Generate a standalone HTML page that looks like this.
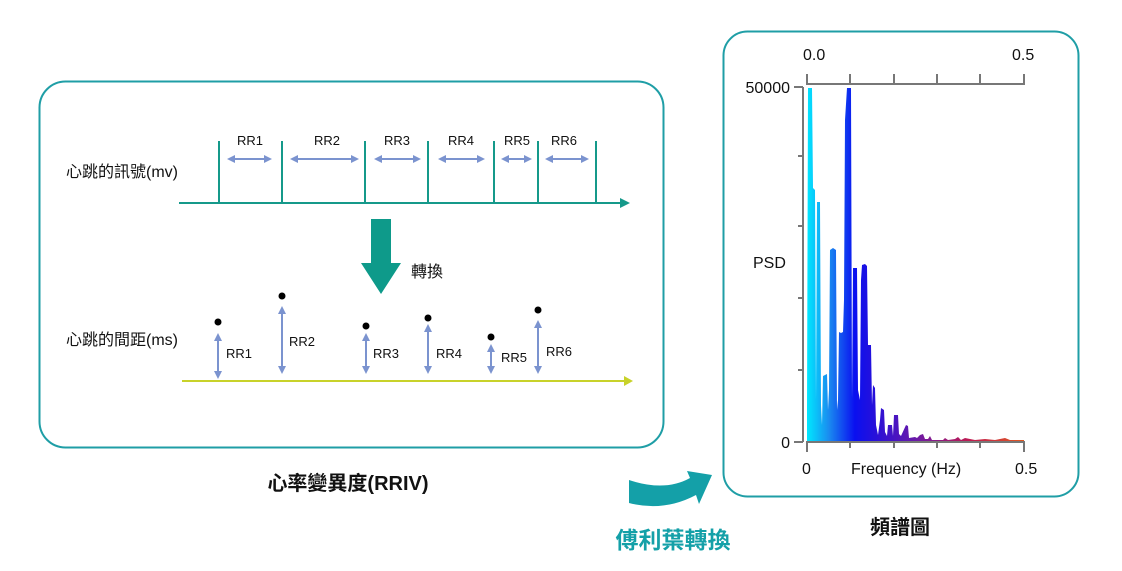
<!DOCTYPE html>
<html><head><meta charset="utf-8"><style>
body{margin:0;background:#fff;}
svg{display:block;font-family:"Liberation Sans","Noto Sans CJK TC",sans-serif;}
</style></head><body>
<svg width="1122" height="571" viewBox="0 0 1122 571" xmlns="http://www.w3.org/2000/svg">
<defs>
<marker id="ab" markerWidth="8" markerHeight="8" refX="6" refY="4" orient="auto-start-reverse" markerUnits="userSpaceOnUse"><path d="M0,0 L8,4 L0,8 z" fill="#7b93cf"/></marker>
<linearGradient id="sp" x1="807" x2="1024" y1="0" y2="0" gradientUnits="userSpaceOnUse">
<stop offset="0" stop-color="#00e8ff"/><stop offset="0.1" stop-color="#1a8cf0"/><stop offset="0.22" stop-color="#0a10f0"/><stop offset="0.32" stop-color="#2a10d8"/><stop offset="0.5" stop-color="#6a1aa8"/><stop offset="0.75" stop-color="#c01a50"/><stop offset="1" stop-color="#e05a20"/>
</linearGradient>
</defs>
<rect x="39.5" y="81.5" width="624" height="366" rx="26" fill="none" stroke="#1f9ea6" stroke-width="2"/>
<rect x="723.5" y="31.5" width="355" height="465" rx="24" fill="none" stroke="#1f9ea6" stroke-width="2"/>

<text x="66" y="177" font-size="16" fill="#111">心跳的訊號(mv)</text>
<text x="66" y="345" font-size="16" fill="#111">心跳的間距(ms)</text>

<g stroke="#15998a" stroke-width="2">
<line x1="179" y1="203" x2="622" y2="203"/>
<line x1="219" y1="141" x2="219" y2="203"/><line x1="282" y1="141" x2="282" y2="203"/><line x1="365" y1="141" x2="365" y2="203"/><line x1="428" y1="141" x2="428" y2="203"/><line x1="494" y1="141" x2="494" y2="203"/><line x1="538" y1="141" x2="538" y2="203"/><line x1="596" y1="141" x2="596" y2="203"/>
</g>
<path d="M620,198 L630,203 L620,208 z" fill="#15998a"/>
<g font-size="13" fill="#111" text-anchor="middle">
<text x="250" y="145">RR1</text><text x="327" y="145">RR2</text><text x="397" y="145">RR3</text><text x="461" y="145">RR4</text><text x="517" y="145">RR5</text><text x="564" y="145">RR6</text>
</g>
<g stroke="#7b93cf" stroke-width="2" marker-start="url(#ab)" marker-end="url(#ab)">
<line x1="229" y1="159" x2="270" y2="159"/><line x1="292" y1="159" x2="357" y2="159"/><line x1="376" y1="159" x2="419" y2="159"/><line x1="440" y1="159" x2="483" y2="159"/><line x1="503" y1="159" x2="530" y2="159"/><line x1="547" y1="159" x2="587" y2="159"/>
<line x1="218" y1="335" x2="218" y2="377"/><line x1="282" y1="308" x2="282" y2="372"/><line x1="366" y1="335" x2="366" y2="372"/><line x1="428" y1="326" x2="428" y2="372"/><line x1="491" y1="346" x2="491" y2="372"/><line x1="538" y1="322" x2="538" y2="372"/>
</g>
<rect x="371" y="219" width="20" height="45" fill="#0e9a8a"/>
<path d="M361,263 L401,263 L381,294 z" fill="#0e9a8a"/>
<text x="411" y="277" font-size="16" fill="#111">轉換</text>

<line x1="182" y1="381" x2="626" y2="381" stroke="#c8d22a" stroke-width="2"/>
<path d="M624,376 L633,381 L624,386 z" fill="#c8d22a"/>
<g fill="#000">
<circle cx="218" cy="322" r="3.5"/><circle cx="282" cy="296" r="3.5"/><circle cx="366" cy="326" r="3.5"/><circle cx="428" cy="318" r="3.5"/><circle cx="491" cy="337" r="3.5"/><circle cx="538" cy="310" r="3.5"/>
</g>
<g font-size="13" fill="#111">
<text x="226" y="358">RR1</text><text x="289" y="346">RR2</text><text x="373" y="358">RR3</text><text x="436" y="358">RR4</text><text x="501" y="362">RR5</text><text x="546" y="356">RR6</text>
</g>
<text x="348" y="490" font-size="20" font-weight="bold" fill="#111" text-anchor="middle">心率變異度(RRIV)</text>

<path d="M629,480 Q665,492 690,478 L687,471 L712,475 L699,504 L696,495 Q664,512 629,503 z" fill="#14a0a8"/>
<text x="673" y="548" font-size="23" font-weight="bold" fill="#14a0a8" text-anchor="middle">傅利葉轉換</text>
<text x="900" y="534" font-size="20" font-weight="bold" fill="#111" text-anchor="middle">頻譜圖</text>

<path fill="url(#sp)" d="M807,442 L807,410 L808,88 L812,88 L813,188 L815,190 L816,400 L817,202 L820,202 L821,405 L822,425 L823,376 L827,374 L828,410 L829,390 L830,250 L833,248 L836,250 L837,410 L838,400 L839,332 L841,333 L843,332 L844,300 L845,120 L847,88 L851,88 L852,400 L853,268 L857,268 L858,390 L860,400 L861,280 L862,265 L865,264 L867,266 L868,345 L871,345 L872,405 L873,385 L875,388 L876,425 L878,435 L880,420 L881,408 L884,410 L885,432 L887,436 L888,425 L892,425 L893,436 L894,415 L898,415 L899,434 L901,436 L906,425 L908,426 L909,438 L915,437 L917,438 L920,435 L923,434 L925,439 L928,439 L930,436 L932,440 L943,440 L945,438 L948,440 L955,439 L958,437 L961,440 L965,438 L970,439 L975,440 L985,439 L995,440 L1000,439 L1005,438 L1010,440 L1024,440 L1024,442 z"/>
<g stroke="#777" stroke-width="2" fill="none">
<path d="M807,74 L807,84 L1024,84 L1024,74"/>
<line x1="850" y1="74" x2="850" y2="84"/><line x1="894" y1="74" x2="894" y2="84"/><line x1="937" y1="74" x2="937" y2="84"/><line x1="980" y1="74" x2="980" y2="84"/>
<line x1="803" y1="87" x2="803" y2="442"/>
<line x1="794" y1="87" x2="803" y2="87"/><line x1="798" y1="156" x2="803" y2="156"/><line x1="798" y1="226" x2="803" y2="226"/><line x1="798" y1="298" x2="803" y2="298"/><line x1="798" y1="370" x2="803" y2="370"/><line x1="794" y1="442" x2="803" y2="442"/>
<path d="M807,452 L807,442 L1024,442 L1024,452"/>
<line x1="850" y1="442" x2="850" y2="448"/><line x1="894" y1="442" x2="894" y2="448"/><line x1="937" y1="442" x2="937" y2="448"/><line x1="980" y1="442" x2="980" y2="448"/>
</g>
<g font-size="16" fill="#111">
<text x="803" y="60">0.0</text><text x="1012" y="60">0.5</text>
<text x="790" y="93" text-anchor="end">50000</text>
<text x="790" y="448" text-anchor="end">0</text>
<text x="753" y="268">PSD</text>
<text x="802" y="474">0</text>
<text x="851" y="474">Frequency (Hz)</text>
<text x="1015" y="474">0.5</text>
</g>
</svg>
</body></html>
